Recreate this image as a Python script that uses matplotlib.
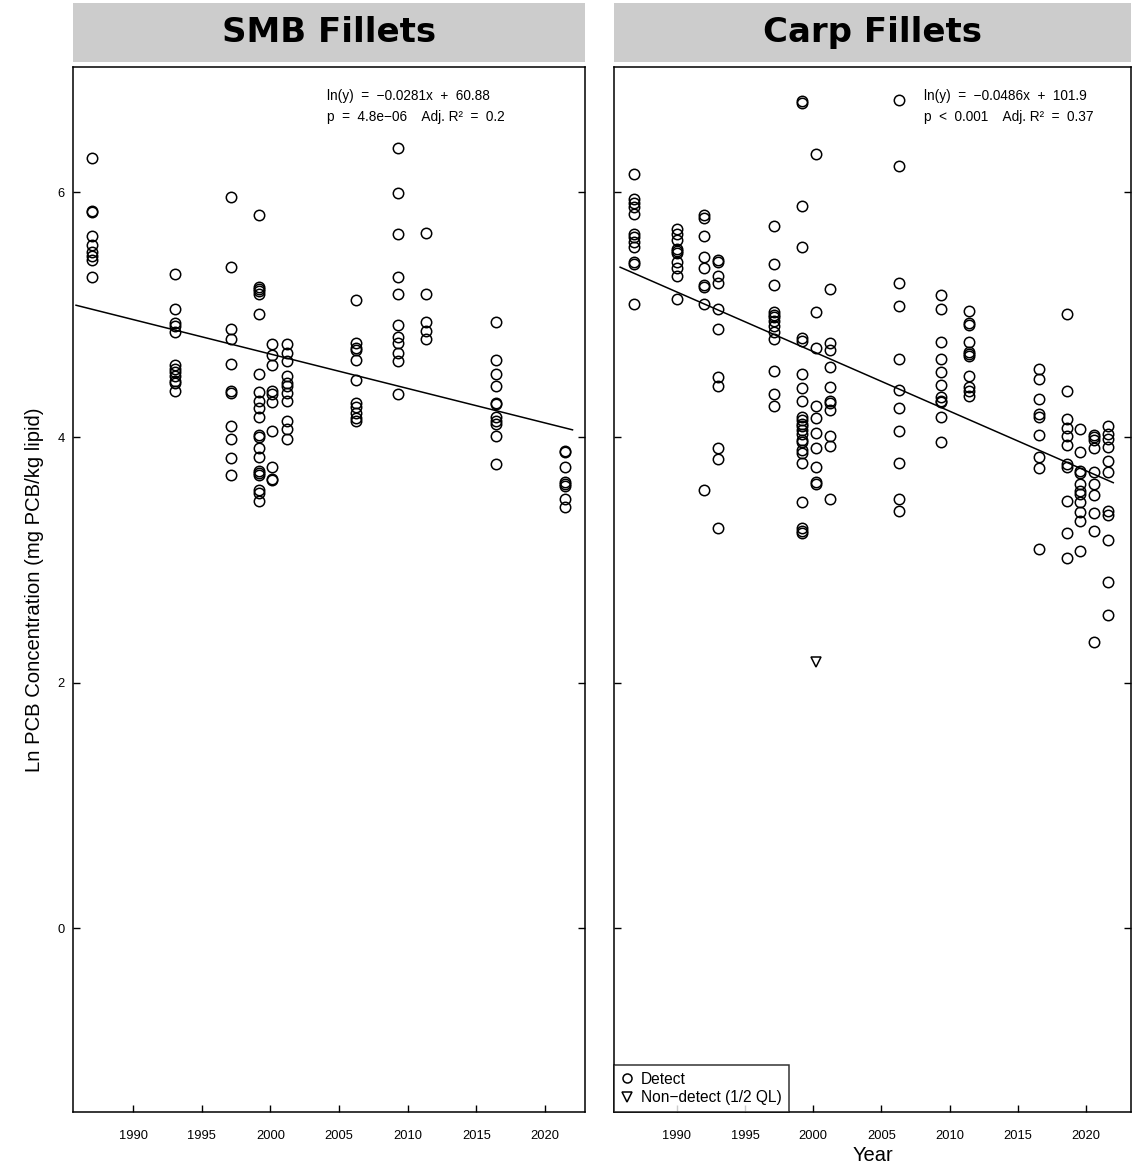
import numpy as np
import matplotlib.pyplot as plt

plt.rcParams['font.family'] = ['Liberation Sans', 'DejaVu Sans']

# --- data (ln PCB, mg PCB/kg lipid); x = sampling date in years ---
smb_years = [1987.0, 1993.05, 1997.15, 1999.15, 2000.15, 2001.2, 2006.25, 2009.3,
             2011.35, 2016.4, 2021.45]
smb_values = [
    [6.28, 5.85, 5.84, 5.64, 5.57, 5.51, 5.48, 5.45, 5.31],
    [5.33, 5.05, 4.93, 4.91, 4.86, 4.59, 4.56, 4.53, 4.50, 4.46, 4.44, 4.38],
    [5.96, 5.39, 4.88, 4.80, 4.60, 4.38, 4.36, 4.09, 3.99, 3.83, 3.69],
    [5.81, 5.23, 5.21, 5.19, 5.17, 5.01, 4.52, 4.37, 4.30, 4.24, 4.17, 4.02,
     4.00, 3.91, 3.84, 3.73, 3.71, 3.69, 3.57, 3.55, 3.48],
    [4.76, 4.67, 4.59, 4.38, 4.35, 4.29, 4.05, 3.76, 3.66, 3.65],
    [4.76, 4.69, 4.62, 4.50, 4.44, 4.42, 4.36, 4.30, 4.13, 4.07, 3.99],
    [5.12, 4.77, 4.73, 4.71, 4.63, 4.47, 4.28, 4.25, 4.20, 4.16, 4.13],
    [6.36, 5.99, 5.66, 5.31, 5.17, 4.92, 4.82, 4.77, 4.69, 4.62, 4.35],
    [5.67, 5.17, 4.94, 4.87, 4.80],
    [4.94, 4.63, 4.52, 4.42, 4.28, 4.27, 4.17, 4.13, 4.11, 4.01, 3.78],
    [3.89, 3.88, 3.76, 3.64, 3.62, 3.60, 3.50, 3.43],
]

carp_years = [1986.9, 1990.0, 1992.0, 1993.05, 1997.13, 1999.16, 2000.19, 2001.24,
              2006.32, 2009.35, 2011.4, 2016.54, 2018.59, 2019.57, 2020.62, 2021.62]
carp_values = [
    [6.15, 5.94, 5.91, 5.88, 5.82, 5.66, 5.63, 5.59, 5.55, 5.43, 5.41, 5.09],
    [5.70, 5.66, 5.61, 5.54, 5.52, 5.50, 5.43, 5.38, 5.32, 5.13],
    [5.81, 5.79, 5.64, 5.47, 5.38, 5.24, 5.23, 5.09, 3.57],
    [5.45, 5.43, 5.32, 5.26, 5.05, 4.88, 4.49, 4.42, 3.91, 3.82, 3.26],
    [5.72, 5.41, 5.24, 5.02, 5.00, 4.98, 4.95, 4.91, 4.86, 4.80, 4.54, 4.35, 4.26],
    [6.74, 6.73, 5.89, 5.55, 4.81, 4.79, 4.52, 4.40, 4.30, 4.17, 4.14, 4.11,
     4.09, 4.06, 4.03, 3.98, 3.96, 3.90, 3.87, 3.79, 3.47, 3.26, 3.24, 3.22],
    [6.31, 5.02, 4.73, 4.26, 4.16, 4.04, 3.91, 3.76, 3.64, 3.62],
    [5.21, 4.77, 4.71, 4.57, 4.41, 4.30, 4.28, 4.22, 4.01, 3.93, 3.50],
    [6.75, 6.21, 5.26, 5.07, 4.64, 4.39, 4.24, 4.05, 3.79, 3.50, 3.40],
    [5.16, 5.05, 4.78, 4.64, 4.53, 4.43, 4.33, 4.30, 4.29, 4.17, 3.96],
    [5.03, 4.93, 4.92, 4.78, 4.70, 4.68, 4.66, 4.50, 4.41, 4.38, 4.34],
    [4.56, 4.48, 4.31, 4.19, 4.17, 4.02, 3.84, 3.75, 3.09],
    [5.01, 4.38, 4.15, 4.08, 4.01, 3.94, 3.78, 3.76, 3.48, 3.22, 3.02],
    [4.07, 3.88, 3.73, 3.71, 3.62, 3.56, 3.54, 3.47, 3.39, 3.32, 3.07],
    [4.02, 4.00, 3.98, 3.91, 3.72, 3.62, 3.53, 3.38, 3.24, 2.33],
    [4.09, 4.03, 3.99, 3.92, 3.81, 3.72, 3.40, 3.37, 3.16, 2.82, 2.55],
]
carp_nd_years = [2000.19]
carp_nd_values = [2.17]

smb_fit = (-0.0281, 60.88)
carp_fit = (-0.0486, 101.9)
fit_span = [1985.85, 2022.0]
smb_text = ["ln(y)  =  \u22120.0281x  +  60.88", "p  =  4.8e\u221206    Adj. R\u00b2  =  0.2"]
carp_text = ["ln(y)  =  \u22120.0486x  +  101.9", "p  <  0.001    Adj. R\u00b2  =  0.37"]
titles = ["SMB Fillets", "Carp Fillets"]
xticks = [1990, 1995, 2000, 2005, 2010, 2015, 2020]
yticks = [0, 2, 4, 6]

W, H = 1132, 1165
fig = plt.figure(figsize=(W / 100, H / 100), dpi=100)


def px_box(x0, x1, y0, y1):
    return [x0 / W, 1 - y1 / H, (x1 - x0) / W, (y1 - y0) / H]


ax1 = fig.add_axes(px_box(73, 585, 67, 1112))
ax2 = fig.add_axes(px_box(614, 1131, 67, 1112))

mk = dict(ls='none', mfc='none', mec='black', mew=1.1, ms=7.5)

for ax, years, vals, fit, txt, tx, xlim in [
        (ax1, smb_years, smb_values, smb_fit, smb_text, 0.496, (1985.63, 2022.91)),
        (ax2, carp_years, carp_values, carp_fit, carp_text, 0.60, (1985.4, 2023.3))]:
    xs = np.concatenate([[yr] * len(v) for yr, v in zip(years, vals)])
    ys = np.concatenate(vals)
    ax.plot(xs, ys, marker='o', **mk)
    xl = np.array(fit_span)
    ax.plot(xl, fit[0] * xl + fit[1], color='black', lw=1.1)
    ax.text(tx, 0.972, txt[0], transform=ax.transAxes, fontsize=9.8, va='center')
    ax.text(tx, 0.952, txt[1], transform=ax.transAxes, fontsize=9.8, va='center')
    ax.set_xlim(*xlim)
    ax.set_ylim(-1.5, 7.02)
    ax.set_xticks(xticks)
    ax.set_yticks(yticks)
    ax.tick_params(direction='in', length=5, width=1, left=True, right=True,
                   top=False, bottom=True, labelsize=9.3, pad=6)
    ax.tick_params(axis='x', pad=13)
    for s in ax.spines.values():
        s.set_linewidth(1.1)

ax2.plot(carp_nd_years, carp_nd_values, marker='v', **mk)
ax2.tick_params(labelleft=False)

ax1.set_ylabel("Ln PCB Concentration (mg PCB/kg lipid)", fontsize=14.6, labelpad=10)
ax2.set_xlabel("Year", fontsize=14.5, labelpad=3)

# legend
h1, = ax2.plot([], [], marker='o', ls='none', mfc='none', mec='black', mew=1.1, ms=6.5)
h2, = ax2.plot([], [], marker='v', ls='none', mfc='none', mec='black', mew=1.1, ms=6.5)
leg = ax2.legend([h1, h2], ["Detect", "Non\u2212detect (1/2 QL)"], loc='lower left',
                 borderaxespad=0, fontsize=11.2, frameon=True, fancybox=False,
                 handlelength=0.8, handletextpad=0.5, borderpad=0.45,
                 labelspacing=0.2)
leg.get_frame().set_edgecolor('black')
leg.get_frame().set_linewidth(1.1)

# title banners
for (x0, x1), t in zip([(73, 585), (614, 1131)], titles):
    tax = fig.add_axes(px_box(x0, x1, 3, 62))
    tax.set_facecolor('#cccccc')
    tax.set_xticks([])
    tax.set_yticks([])
    for s in tax.spines.values():
        s.set_visible(False)
    tax.text(0.5, 0.5, t, ha='center', va='center', fontsize=24.5,
             fontweight='bold', family='DejaVu Sans', transform=tax.transAxes)

fig.savefig('out.png', dpi=100)
